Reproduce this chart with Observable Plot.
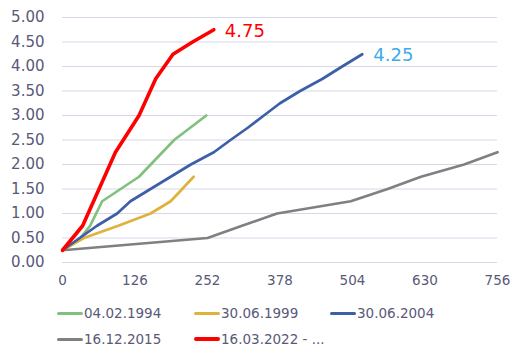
<!DOCTYPE html>
<html><head><meta charset="utf-8">
<script src="https://cdn.jsdelivr.net/npm/d3@7"></script>
<script src="https://cdn.jsdelivr.net/npm/@observablehq/plot@0.6"></script>
<style>
body{margin:0;background:#fff;font-family:"DejaVu Sans",sans-serif;}
#chart{position:relative;width:529px;height:360px;overflow:hidden;}
.item{position:absolute;display:flex;align-items:center;font-size:13.5px;color:#595979;white-space:nowrap;height:20px;}
.sw{display:inline-block;width:26px;margin-right:1px;border-radius:2px;}
</style>
</head><body>
<div id="chart"></div>
<script>
const xTicks = [0, 126, 252, 378, 504, 630, 756];
const yTicks = [0, 0.5, 1, 1.5, 2, 2.5, 3, 3.5, 4, 4.5, 5];

const seriesNames = ["04.02.1994", "30.06.1999", "30.06.2004", "16.12.2015", "16.03.2022 - ..."];
const seriesColors = ["#82c07e", "#dfb23d", "#3d5ea8", "#808080", "#ff0000"];
const seriesWidths = [2.7, 2.7, 2.7, 2.7, 3.6];

const days1994 = [0, 31, 48, 69, 133, 194, 250];
const rate1994 = [0.25, 0.5, 0.75, 1.25, 1.75, 2.5, 3.0];
const days1999 = [0, 37, 97, 153, 188, 228];
const rate1999 = [0.25, 0.5, 0.75, 1.0, 1.25, 1.75];
const days2004 = [0, 30, 60, 95, 118, 153, 188, 223, 263, 292, 322, 350, 378, 413, 452, 486, 521];
const rate2004 = [0.25, 0.5, 0.75, 1.0, 1.25, 1.5, 1.75, 2.0, 2.25, 2.5, 2.75, 3.0, 3.25, 3.5, 3.75, 4.0, 4.25];
const days2015 = [0, 252, 312, 373, 501, 565, 623, 698, 756];
const rate2015 = [0.25, 0.5, 0.75, 1.0, 1.25, 1.5, 1.75, 2.0, 2.25];
const days2022 = [0, 35, 92, 133, 162, 192, 226, 263];
const rate2022 = [0.25, 0.75, 2.25, 3.0, 3.75, 4.25, 4.5, 4.75];

const allDays = [days1994, days1999, days2004, days2015, days2022];
const allRates = [rate1994, rate1999, rate2004, rate2015, rate2022];

const series = seriesNames.map((name, i) => ({
  name, color: seriesColors[i], width: seriesWidths[i],
  data: allDays[i].map((d, j) => ({x: d, y: allRates[i][j]}))
}));

const endLabels = [
  {i: 4, color: "#ff0000"},
  {i: 2, color: "#3fa9f0"}
].map(o => {
  const d = series[o.i].data[series[o.i].data.length - 1];
  return {x: d.x, y: d.y, t: d.y.toFixed(2), color: o.color};
});

const plot = Plot.plot({
  width: 529,
  height: 295,
  marginLeft: 62,
  marginRight: 32,
  marginTop: 17,
  marginBottom: 33,
  x: {domain: [0, 756]},
  y: {domain: [0, 5]},
  style: {fontFamily: "DejaVu Sans, sans-serif", color: "#595979", background: "white"},
  marks: [
    Plot.gridY(yTicks, {stroke: "#d7d7e7", strokeOpacity: 1, strokeWidth: 1}),
    Plot.axisX(xTicks, {tickSize: 0, tickPadding: 13, fontSize: 13.5, label: null, tickFormat: d => String(d)}),
    Plot.axisY(yTicks, {tickSize: 0, tickPadding: 18, fontSize: 15, label: null, tickFormat: d => d.toFixed(2)}),
    ...series.map(s => Plot.line(s.data, {x: "x", y: "y", stroke: s.color, strokeWidth: s.width, strokeLinejoin: "round", strokeLinecap: "round"})),
    ...endLabels.map(l => Plot.text([l], {x: "x", y: "y", text: "t", fill: l.color, fontSize: 18, textAnchor: "start", dx: 11, dy: 1}))
  ]
});
const chart = document.getElementById("chart");
chart.appendChild(plot);

const legendPos = [[57, 303], [194, 303], [330, 303], [57, 329], [194, 329]];
series.forEach((s, i) => {
  const it = document.createElement("div");
  it.className = "item";
  it.style.left = legendPos[i][0] + "px";
  it.style.top = legendPos[i][1] + "px";
  const sw = document.createElement("span");
  sw.className = "sw";
  sw.style.background = s.color;
  sw.style.height = (i === 4 ? 4 : 3) + "px";
  it.appendChild(sw);
  it.appendChild(document.createTextNode(s.name));
  chart.appendChild(it);
});
</script>
</body></html>
